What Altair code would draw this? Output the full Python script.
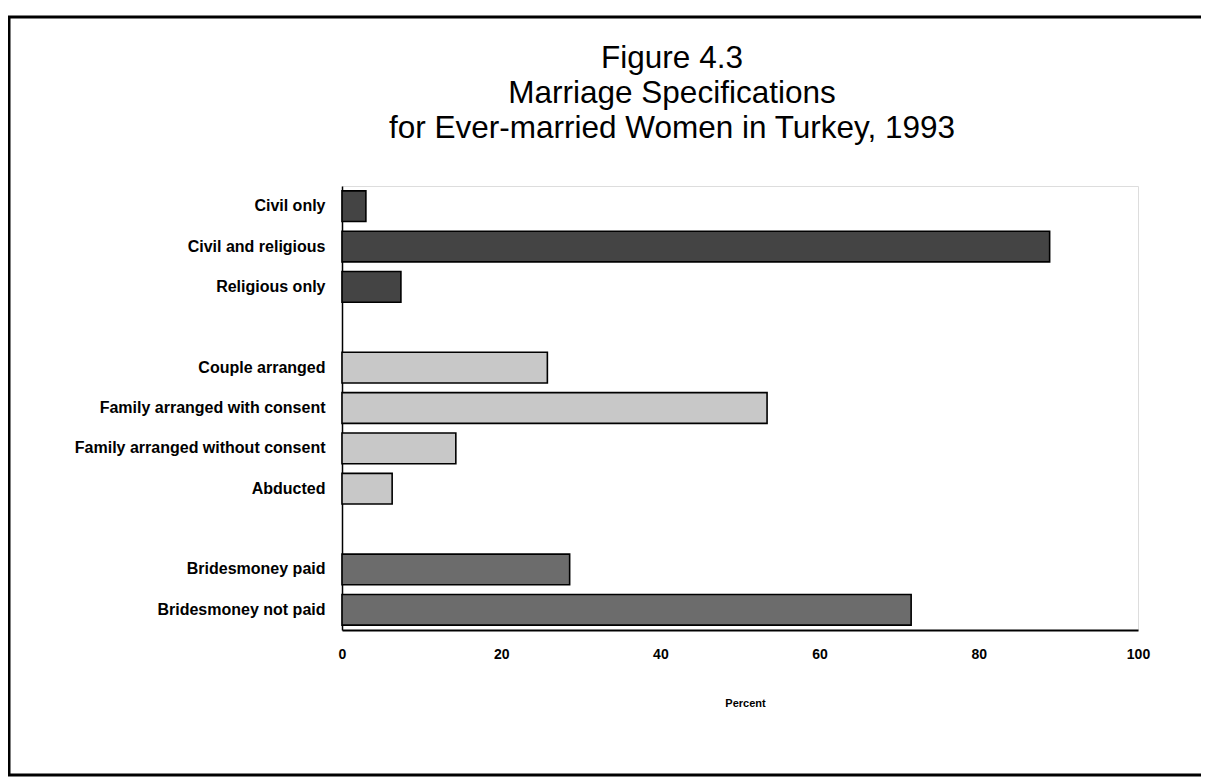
import altair as alt
import pandas as pd

categories = ["Civil only", "Civil and religious", "Religious only",
              "Couple arranged", "Family arranged with consent",
              "Family arranged without consent", "Abducted",
              "Bridesmoney paid", "Bridesmoney not paid"]
values = [3.0, 88.9, 7.4, 25.8, 53.4, 14.3, 6.3, 28.6, 71.5]
groups = ["Type", "Type", "Type",
          "Arrangement", "Arrangement", "Arrangement", "Arrangement",
          "Bridesmoney", "Bridesmoney"]
y_domain = ["Civil only", "Civil and religious", "Religious only", " ",
            "Couple arranged", "Family arranged with consent",
            "Family arranged without consent", "Abducted", "  ",
            "Bridesmoney paid", "Bridesmoney not paid"]
x_ticks = [0, 20, 40, 60, 80, 100]
group_names = ["Type", "Arrangement", "Bridesmoney"]
group_colors = ["#444444", "#c8c8c8", "#6c6c6c"]

df = pd.DataFrame({"category": categories, "value": values, "group": groups})

FONT = "Liberation Sans"

bars = alt.Chart(df).mark_bar(stroke="black", strokeWidth=1.6).encode(
    x=alt.X("value:Q",
            scale=alt.Scale(domain=[0, 100], nice=False),
            axis=alt.Axis(values=x_ticks, title="Percent", grid=False,
                          tickSize=0, labelPadding=17, labelFontSize=14,
                          labelFontWeight="bold", labelFont=FONT,
                          labelColor="black", labelFlush=False,
                          titleFont=FONT, titleFontSize=11,
                          titleFontWeight="bold", titleColor="black",
                          titlePadding=36, titleX=403,
                          domainColor="black", domainWidth=2)),
    y=alt.Y("category:N", sort=y_domain,
            scale=alt.Scale(domain=y_domain, paddingInner=0.24,
                            paddingOuter=0.12),
            axis=alt.Axis(title=None, ticks=False, labelPadding=17,
                          labelFontSize=16, labelFontWeight="bold",
                          labelFont=FONT, labelColor="black", labelLimit=400,
                          domainColor="black", domainWidth=1.5)),
    color=alt.Color("group:N",
                    scale=alt.Scale(domain=group_names, range=group_colors),
                    legend=None),
)

frame_df = pd.DataFrame({"a": [0]})
rule_left = alt.Chart(frame_df).mark_rule(color="black", strokeWidth=3).encode(
    x=alt.value(-333), y=alt.value(-169), y2=alt.value(589))
rule_top = alt.Chart(frame_df).mark_rule(color="black", strokeWidth=3).encode(
    x=alt.value(-334), x2=alt.value(865), y=alt.value(-169))
rule_bottom = alt.Chart(frame_df).mark_rule(color="black", strokeWidth=3).encode(
    x=alt.value(-334), x2=alt.value(865), y=alt.value(589))

chart = alt.layer(bars, rule_left, rule_top, rule_bottom).properties(
    width=796,
    height=444,
    padding={"left": 334, "top": 178, "right": 63, "bottom": 148},
    autosize=alt.AutoSizeParams(type="none"),
    title=alt.TitleParams(
        text=["Figure 4.3", "Marriage Specifications",
              "for Ever-married Women in Turkey, 1993"],
        font=FONT, fontSize=31.5, fontWeight="normal", color="black",
        anchor="middle", frame="group", dx=-68, offset=0, dy=128.5,
        lineHeight=35),
).configure_view(stroke="black", strokeWidth=1.5).configure(background="white")

chart.save("out.html", embed_options={"renderer": "svg", "actions": False})
